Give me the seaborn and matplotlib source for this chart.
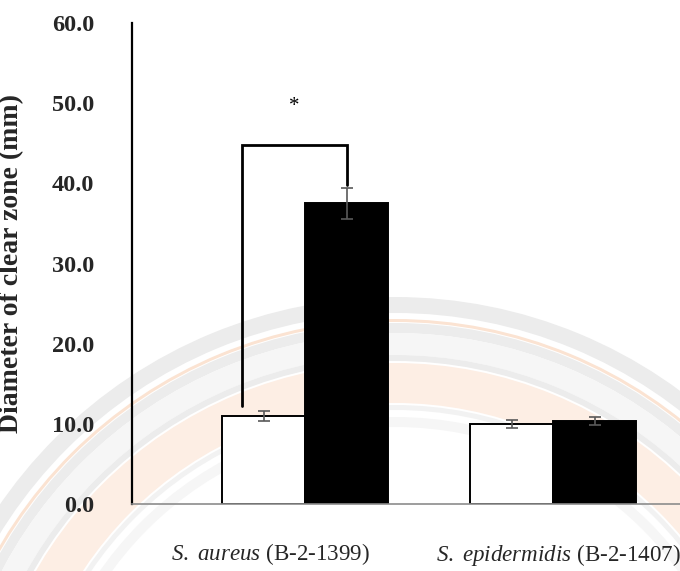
import matplotlib
matplotlib.use("Agg")
import matplotlib.pyplot as plt
from matplotlib.patches import Wedge
from matplotlib.transforms import ScaledTranslation
import pandas as pd
import seaborn as sns

# Clear-zone diameters (mm), mean and SD per strain and treatment
strains = ["S. aureus (B-2-1399)", "S. epidermidis (B-2-1407)"]
species = ["S. aureus", "S. epidermidis"]
codes = ["(B-2-1399)", "(B-2-1407)"]
treatments = ["Control", "Treated"]
control_mean = [11.0, 10.0]
control_sd = [0.6, 0.5]
treated_mean = [37.5, 10.3]
treated_sd = [1.9, 0.5]
yticks = [0, 10, 20, 30, 40, 50, 60]

df = pd.DataFrame({
    "strain": strains * 2,
    "treatment": [treatments[0]] * 2 + [treatments[1]] * 2,
    "diameter": control_mean + treated_mean,
    "sd": control_sd + treated_sd,
})

sns.set_theme(style="white")
plt.rcParams["font.family"] = ["Liberation Serif", "DejaVu Serif"]
plt.rcParams["mathtext.fontset"] = "custom"
plt.rcParams["mathtext.it"] = "Liberation Serif:italic"
plt.rcParams["mathtext.rm"] = "Liberation Serif"

W, H = 680, 571
fig = plt.figure(figsize=(W / 100, H / 100), dpi=100)

# faint seal in the background
seal = fig.add_axes([0, 0, 1, 1], zorder=0)
seal.set_xlim(0, W)
seal.set_ylim(H, 0)
seal.axis("off")
cx, cy = 395, 777
rings = [(480, 16, "#ececec"), (458, 3, "#fbe3d2"), (454, 10, "#ececec"),
         (444, 22, "#f6f6f6"), (422, 6, "#ececec"), (414, 40, "#fdeee4"),
         (372, 5, "#f2f2f2"), (360, 10, "#f6f6f6")]
for r, w, c in rings:
    seal.add_patch(Wedge((cx, cy), r, 0, 360, width=w, facecolor=c,
                         edgecolor="none"))

ax = fig.add_axes([132 / W, (H - 504) / H, (W - 132) / W, 481 / H], zorder=1)
ax.patch.set_alpha(0)

sns.barplot(data=df, x="strain", y="diameter", hue="treatment",
            palette=["white", "black"], width=0.67, gap=0,
            edgecolor="black", linewidth=1.4, errorbar=None,
            legend=False, ax=ax)

# error bars at the centre of each bar
for patch, (_, row) in zip(ax.patches, df.iterrows()):
    xc = patch.get_x() + patch.get_width() / 2
    ax.errorbar(xc, row["diameter"], yerr=row["sd"], fmt="none",
                ecolor="#595959", elinewidth=1.2, capsize=4, capthick=1.2,
                zorder=5)

# significance bracket between control and treated S. aureus
bars = ax.patches
x_left = bars[0].get_x() + bars[0].get_width() * 0.24
x_right = bars[2].get_x() + bars[2].get_width() / 2
y_top = 44.8
ax.plot([x_left, x_left, x_right, x_right],
        [control_mean[0] + 1.25, y_top, y_top, treated_mean[0] + 2.25],
        color="black", lw=2, solid_joinstyle="miter", zorder=6)
ax.text((x_left + x_right) / 2, 49.6, "*", ha="center", va="center",
        fontsize=15, color="black")

ax.set_xlim(-0.698, 1.512)
ax.set_ylim(0, 60)
ax.set_yticks(yticks)
ax.set_yticklabels([f"{v:.1f}" for v in yticks], fontsize=17.5,
                   fontweight="bold")
ax.tick_params(axis="y", length=0, pad=27)
ax.tick_params(axis="x", length=0, pad=27)
ax.set_xticks([0, 1])
ax.set_xticklabels([r"$\mathit{" + s.replace(" ", r"\ ") + "}$ " + c
                    for s, c in zip(species, codes)], fontsize=16.6)
for lbl, dx in zip(ax.get_xticklabels(), [-35, 5]):
    lbl.set_transform(lbl.get_transform() +
                      ScaledTranslation(dx / 100, 0, fig.dpi_scale_trans))
ax.set_xlabel("")
ax.set_ylabel("Diameter of clear zone (mm)", fontsize=20, fontweight="bold")
ax.yaxis.set_label_coords(-(132 - 24) / (W - 132), 0.5)

for s in ["top", "right"]:
    ax.spines[s].set_visible(False)
ax.spines["left"].set_color("black")
ax.spines["left"].set_linewidth(1.6)
ax.spines["bottom"].set_color("#8c8c8c")
ax.spines["bottom"].set_linewidth(1.2)

fig.savefig("out.png", dpi=100)
